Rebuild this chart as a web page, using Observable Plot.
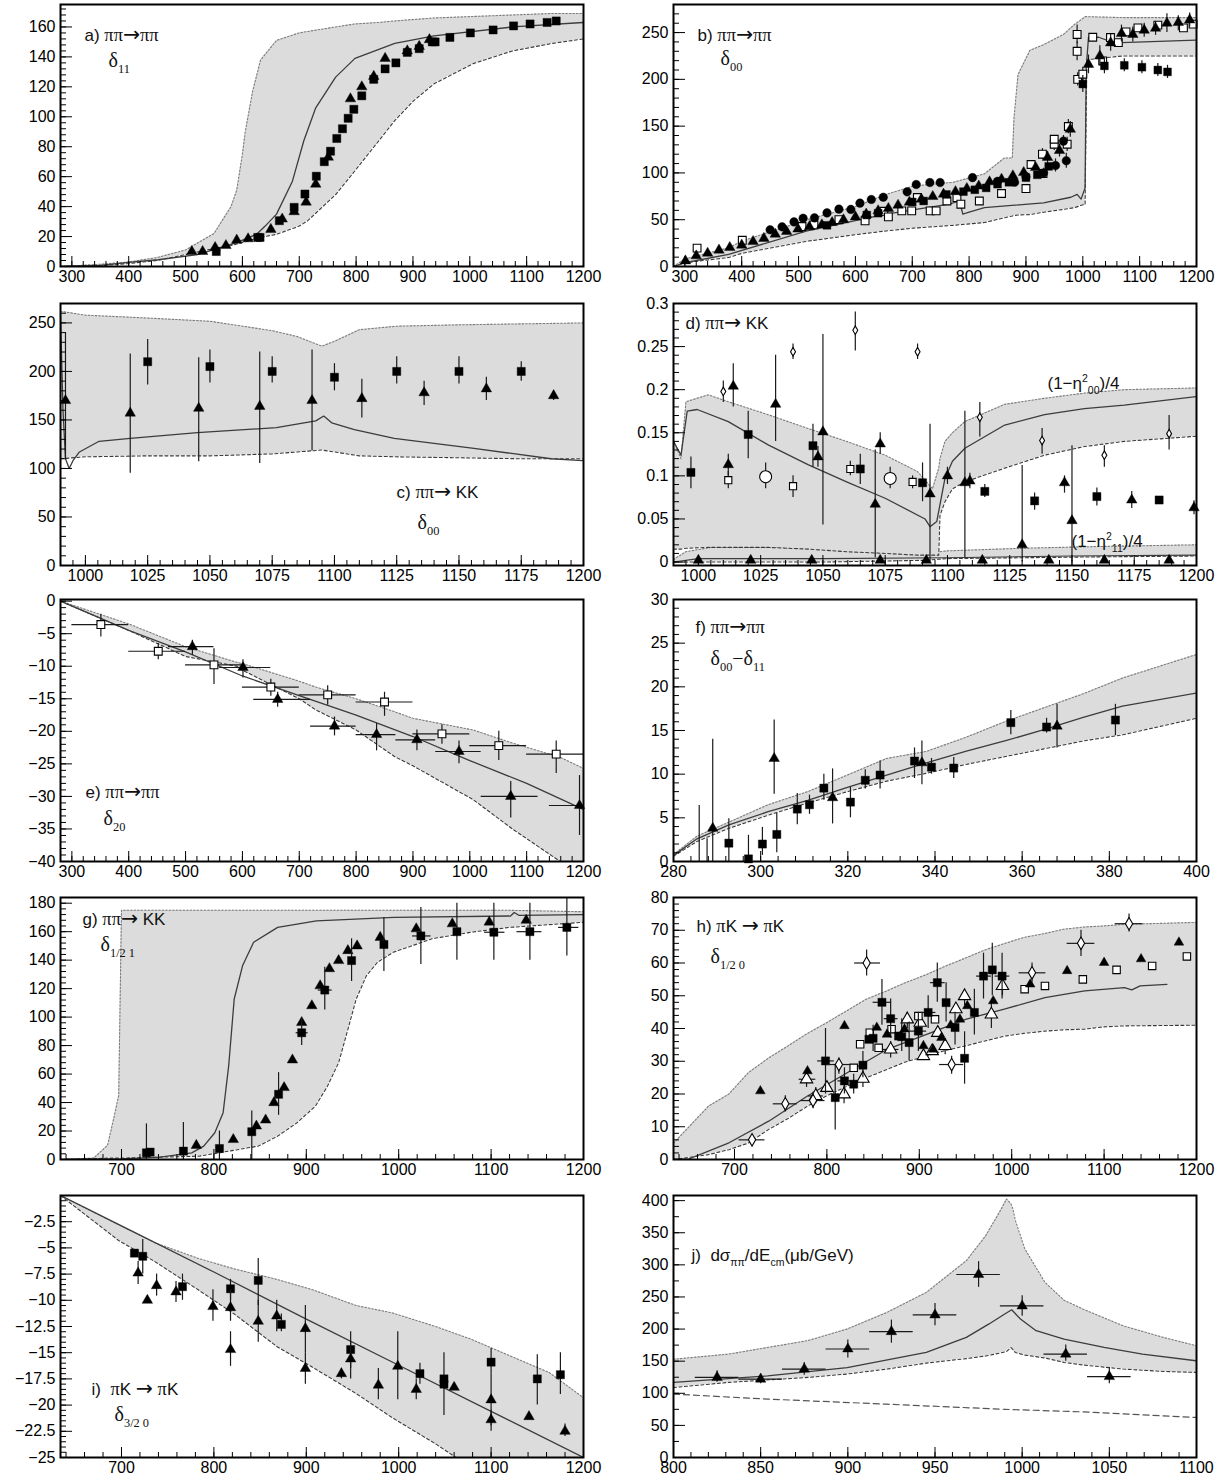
<!DOCTYPE html>
<html><head><meta charset="utf-8">
<script src="https://cdn.jsdelivr.net/npm/d3@7"></script>
<script src="https://cdn.jsdelivr.net/npm/@observablehq/plot@0.6"></script>
<style>
body{margin:0;background:#fff}
#fig{position:relative;width:1221px;height:1478px;overflow:hidden;background:#fff}
</style></head><body><div id="fig"></div>
<script>
// ===================== DATA =====================
// Tick labels
const ticks100 = [300,400,500,600,700,800,900,1000,1100,1200];
const ticks25 = [1000,1025,1050,1075,1100,1125,1150,1175,1200];
const ticksF = [280,300,320,340,360,380,400];
const ticksGH = [700,800,900,1000,1100,1200];
const ticksJ = [800,850,900,950,1000,1050,1100];
const yTicksA = [0,20,40,60,80,100,120,140,160];
const yTicksB = [0,50,100,150,200,250];
const yTicksD = [0,0.05,0.1,0.15,0.2,0.25,0.3];
const yTicksE = [0,-5,-10,-15,-20,-25,-30,-35,-40];
const yTicksF = [0,5,10,15,20,25,30];
const yTicksG = [0,20,40,60,80,100,120,140,160,180];
const yTicksH = [0,10,20,30,40,50,60,70,80];
const yTicksI = [-2.5,-5,-7.5,-10,-12.5,-15,-17.5,-20,-22.5,-25];
const yTicksJ = [0,50,100,150,200,250,300,350,400];

// ---- a) pi pi -> pi pi, delta11 ----  band rows: [x, lower, upper]
const aBand = [[280,0,0],[350,0.5,1.5],[400,2,3],[450,4,6],[500,8,11],[550,12,22],[580,14,40],[590,15,51],[600,16,75],[605,16.5,90],[618,18,117],[632,19.5,138],[660,21.5,151],[700,27,156],[715,30.6,157],[764,48,160],[798,64,162],[840,84,163],[868,97.5,164],[902,111,165],[937,122,166],[1006,135.5,167],[1075,144,168],[1145,149,169],[1200,152,169]];
const aCurve = [[280,0],[350,0.8],[400,2.7],[452,4.5],[521,8],[590,16],[625,21.6],[640,27],[660,35],[688,57],[708,84],[729,106],[764,126.5],[798,139],[868,149],[937,154],[1075,160],[1200,163]];
const aSquares = [[554,10],[627,19.4],[631,19.4],[665,30.6],[691,39.5],[710,48.4],[730,60.3],[744,70],[755,77],[766,85.5],[776,92],[786,99],[796,105],[810,114],[831,125],[851,132],[870,136],[890,143],[911,145.5],[934,150],[939,150],[965,153],[1001,156],[1041,158],[1077,160.7],[1106,162],[1136,163],[1152,164]];
const aTriangles = [[511,10],[530,10],[552,12.7],[571,14],[590,17.6],[610,18.5],[650,24.8],[670,31.7],[691,36.6],[712,43],[729,55],[751,73],[790,112],[810,120],[831,127],[851,139],[890,144],[911,147],[929,151.5]];

// ---- b) delta00 ----
const bBand = [[280,0,0],[300,4,8],[377,9.6,20],[400,14,27],[515,27,50],[600,34,64],[654,38,77],[702,41,86],[772,44,90],[827,47,99],[862,52,116],[876,54,116],[879,54.5,159],[886,55,205],[907,55.5,231],[931,58,237],[966,61,248],[986,63,259],[1000,66,265],[1004,66,267],[1007,221,267],[1070,225,266],[1200,225,266]];
const bCurve = [[280,0],[300,4],[377,13],[515,38],[654,56],[765,66.6],[783,70],[789,56],[800,58],[827,63],[931,68],[979,74],[990,77],[997,72],[1004,84],[1006,212],[1010,245],[1028,245],[1055,239],[1200,242]];
const bTriangles = [[301,6],[320,11.4],[340,14.2],[360,17.5],[379,20.3],[400,22.8],[420,26.7],[439,30],[459,34.5],[479,37.4],[499,40],[519,42.4],[541,44.5],[559,47],[579,50],[600,53],[619,56],[640,59.5],[658,62],[675,65.5],[695,68.7],[716,72],[736,74.8],[755,77.3],[776,80],[796,83.3],[817,86],[836,90.5],[857,93.3],[877,96.9],[896,100.4],[917,105.8],[938,116.5,110,123],[959,124,117,131],[978,146.7,138,155],[1010,216,206,226],[1030,225,214,236],[1049,239,230,248],[1068,249,240,258],[1088,248,240,256],[1108,252.5,245,260],[1128,254.6,247,262],[1148,260,250,270],[1168,260.7,252,268],[1188,263.5,256,271]];
const bCircles = [[450,39.2],[471,42.4],[492,47.7],[508,51.6],[528,52],[550,57.3],[571,61.3],[592,61],[608,67.7],[628,71.6],[649,74],[691,79.8],[707,87.6],[731,89.7],[749,89.7],[806,95],[850,91],[880,90],[900,96],[931,100,95,105],[952,108,101,115],[966,134,128,140],[971,113,105,121]];
const bSquares = [[550,44],[620,55],[640,57],[700,69],[720,70],[760,77],[790,80],[810,82],[830,84],[850,88],[870,90],[900,95],[920,98],[940,107],[1000,195,186,204],[1038,214.4,206,223],[1073,215,208,222],[1104,213,206,220],[1132,210,203,217],[1149,208,201,215]];
const bSquaresOpen = [[321.5,19.6],[401,28],[506,42.7],[527,44.5],[571,50],[617,48.8],[650,59],[658,53],[681.6,59.5],[699,59.5],[709,73.7],[731.5,59.5],[742,59.5],[761,70],[778.6,73.7],[785.5,66.6],[818,70],[857,78],[900,83.3],[909,109],[929,120,114,126],[930,99.4],[949.7,130.7,124,137],[949.7,136],[972.5,130.7,123,138],[974.6,149.6,142,157],[990,248,238,258],[990,230,220,240],[991,200,193,207],[1000,205.5,198,213],[1017.5,245],[1035,219.7],[1048.7,244.7],[1062.5,239.3],[1076,250.7],[1097,255],[1132,258],[1177,255],[1194,259]];

// ---- c) pi pi -> K K, delta00 ----
const cBand = [[990,110,262],[1000,112,258],[1025,113,255],[1050,113,251.7],[1075,115,242],[1085,117,236],[1095,119,226],[1100,117,231],[1110,113,243],[1125,112,246.6],[1150,111,248],[1175,110,249],[1200,110,250]];
const cCurve = [[990,258],[991,160],[992,110],[993.5,100],[995,108],[997.6,117],[1005.5,128],[1018,131],[1045,137],[1076.7,142],[1092.5,149],[1095.7,154],[1098.9,147],[1108,140],[1124,131],[1156,120.7],[1187,110],[1200,108]];
const cSquares = [[1025,210,186,233],[1050,205,188,222],[1075,200,188,215],[1100,194,180,208],[1125,200,187,215],[1150,200,187,215],[1175,200,190,210]];
const cTriangles = [[992,170,110,240],[1018,157,95,218],[1045.5,162,107,214],[1070,164,105,220],[1091,170,118,222],[1111,172,152,192],[1136,178,165,190],[1161,182,170,194],[1188,175,170,180]];

// ---- d) pi pi -> K K, inelasticities ----
const dBand00 = [[990,0.015,0.14],[993,0.015,0.12],[995,0.016,0.186],[1004,0.017,0.194],[1012,0.017,0.186],[1028,0.017,0.171],[1044,0.015,0.155],[1059.5,0.012,0.14],[1075,0.01,0.124],[1088,0.008,0.105],[1094,0.008,0.085],[1096.5,0.008,0.109],[1097,0.054,0.12],[1099,0.07,0.14],[1102,0.085,0.15],[1107,0.093,0.163],[1123,0.109,0.183],[1139,0.124,0.19],[1155,0.134,0.196],[1171,0.14,0.2],[1200,0.146,0.202]];
const dBand11 = [[990,0,0.003],[995,0,0.012],[1005,0,0.017],[1030,0,0.017],[1050,0,0.016],[1070,0.001,0.012],[1090,0.002,0.01],[1100,0.004,0.013],[1130,0.005,0.016],[1160,0.006,0.018],[1200,0.007,0.02]];
const dCurve00 = [[990,0.14],[993,0.124],[995.5,0.175],[999.5,0.177],[1012,0.163],[1028,0.136],[1044,0.113],[1059.5,0.093],[1075,0.074],[1091,0.05],[1093,0.041],[1095.7,0.047],[1099,0.097],[1102,0.117],[1107,0.132],[1123,0.159],[1139,0.171],[1155,0.178],[1171,0.182],[1200,0.192]];
const dCurve11 = [[990,0],[1000,0.004],[1050,0.004],[1100,0.005],[1150,0.007],[1200,0.008]];
const dSquares = [[997,0.104,0.085,0.122],[1020,0.148,0.12,0.175],[1046,0.135,0.11,0.16],[1065,0.108,0.09,0.125],[1090,0.092,0.07,0.115],[1115,0.082,0.075,0.09],[1135,0.071,0.06,0.08],[1160,0.076,0.065,0.086],[1185,0.072,0.068,0.076]];
const dTriangles = [[1012,0.113,0.1,0.125],[1014,0.204,0.18,0.23],[1031,0.183,0.14,0.24],[1048,0.122,0.11,0.134],[1050,0.151,0.043,0.264],[1071,0.067,0.005,0.13],[1073,0.137,0.125,0.15],[1093,0.079,0,0.16],[1100,0.1,0.09,0.11],[1107,0.092,0.005,0.175],[1109,0.094,0.085,0.103],[1130,0.02,0,0.112],[1147,0.092,0.08,0.1],[1150,0.048,0,0.135],[1174,0.072,0.062,0.082],[1199,0.063,0.055,0.071]];
const dTrianglesLow = [[1000,0.002],[1021,0.002],[1045.5,0.002],[1073,0.002],[1091.5,0.002],[1114,0.002],[1140.7,0.002],[1163,0.002],[1189,0.002]];
const dSquaresOpen = [[1012,0.095,0.085,0.105],[1038,0.088,0.075,0.1],[1061,0.108,0.1,0.117],[1086,0.093,0.085,0.1]];
const dCirclesOpen = [[1027,0.099,0.085,0.115],[1077,0.097,0.085,0.11]];
const dDiamonds = [[1010,0.198,0.185,0.21],[1038,0.244,0.235,0.253],[1063,0.269,0.245,0.29],[1088,0.244,0.235,0.253],[1113,0.168,0.145,0.185],[1138,0.141,0.125,0.155],[1163,0.124,0.11,0.135],[1189,0.149,0.13,0.17]];

// ---- e) delta20 ----  points: [x, y, ylo, yhi, xlo, xhi]
const eBand = [[280,0,0],[400,-4.5,-3.5],[500,-8.5,-7],[590,-10,-9.4],[600,-10.6,-9.6],[700,-15,-12.3],[729,-16.7,-13.2],[800,-19.8,-15],[868,-23.9,-17],[900,-25.3,-18],[1006,-30.5,-19.8],[1075,-35,-21.8],[1159,-40,-24],[1200,-40,-25.7]];
const eCurve = [[280,0],[400,-4.5],[500,-7.8],[600,-11.5],[700,-14.5],[800,-17.5],[900,-20.8],[1000,-24.5],[1100,-28],[1200,-32]];
const eSquaresOpen = [[351,-3.6,-2,-5.5,300,400],[452,-7.7,-6.5,-9,400,500],[550,-9.8,-7.3,-12.8,500,600],[650,-13.2,-12,-14.6,600,700],[750,-14.4,-13,-16,700,800],[850,-15.5,-14,-17.7,800,900],[951,-20.4,-19,-22,900,1000],[1051,-22.2,-20,-24.5,1000,1100],[1152,-23.5,-21.5,-26.5,1100,1200]];
const eTriangles = [[512,-7,-6,-8.3,470,550],[601,-10.2,-9,-11.8,560,650],[662,-15.1,-14,-16.3,620,720],[762,-19.2,-17.8,-20.7,720,800],[836,-20.5,-18.8,-23,800,870],[907,-21.3,-19.8,-23,870,940],[981,-23.1,-21.5,-25,940,1020],[1072,-30,-27.7,-33.3,1020,1120],[1193,-31.4,-26.8,-36,1140,1200]];

// ---- f) delta00 - delta11 ----
const fBand = [[280,0.6,0.8],[285.4,2.3,2.9],[292.7,3.8,4.5],[301.7,5.3,6.5],[310.8,6.7,8],[319.9,8,9.9],[328.9,9.2,11.8],[338,10.1,12.6],[347,11.1,14.2],[356,12,16],[365,12.9,17.6],[374,13.8,19.2],[383,14.5,21],[400,16.4,23.7]];
const fCurve = [[280,0.7],[285.4,2.6],[292.7,4.2],[301.7,5.7],[310.8,7],[319.9,8.5],[328.9,9.9],[338,11.3],[347,12.6],[356,13.8],[365,15.1],[374,16.5],[383,17.8],[400,19.3]];
const fSquares = [[292.7,2.1,0,4.9],[297.2,0.3,0,3],[300.4,2,0.7,3.9],[303.7,3.1,1,5.5],[308.4,6,4.2,7.8],[311.2,6.5,5.4,7.6],[314.5,8.4,7,10],[320.6,6.8,5,8.5],[324,9.3,8.3,10.5],[327.4,9.9,8.3,11.5],[335.3,11.5,9.5,13],[339.2,10.8,10,11.8],[344.3,10.7,9.5,11.9],[357.4,15.9,14.5,17.3],[365.6,15.4,14.7,16.4],[381.4,16.2,14.4,18]];
const fTriangles = [[289,3.8,0,14],[303.1,11.8,7.7,16.2],[316.5,7.3,4.3,10.6],[337,11.3,8.8,13.8],[368,15.5,13,18]];
const fErrOnly = [[285.9,0,6.4],[287.7,0,2.6]];

// ---- g) delta 1/2 1 ----
const gBand = [[634,0,0],[670,0.5,1],[685,1,10],[692,1,30],[697,1,45],[700,1,175],[784,2.3,175],[848,9.4,175],[869,16.4,175],[890,25.8,175],[910,37.6,175],[923,51.6,175],[935,68,175],[944,89,175],[954,112.7,175],[965,129,175],[977,138.5,175],[994,145.5,175],[1036,155,175],[1078,159.6,175],[1120,163,175],[1200,166.6,174]];
const gCurve = [[634,0],[700,0.5],[742,1.6],[776,4.7],[789,9.4],[801,18.8],[810,32.9],[816,65.7],[822,112.7],[831,136],[843,152.6],[869,163],[911,167.6],[995,170],[1121,171],[1125,173.5],[1130,171.5],[1200,172]];
const gSquares = [[727,4.7,0,25],[731,5.2],[767,5.9,0,26],[806,7.7,0,20],[841,19.5,0,34],[870,45.8,31,61],[895,89,80,99,889,902],[920,119,105,135,913,928],[949,139.7,125,155],[984,151,132,170],[1024,157,137,177,1015,1035],[1063,160,140,180],[1103,159.6,140,180,1093,1115],[1142,160,140,180,1128,1155],[1182,163,143,184,1173,1195]];
const gTriangles = [[781,9.9],[821,14],[846,23.5],[856,27.7],[865,39.9],[876,50.5],[885,69.9],[895,96.2],[906,108],[915,122],[925,134],[935,139.7],[945,146.7],[955,150],[980,156],[1019,162],[1058,165.5],[1098,166.7],[1138,168]];

// ---- h) delta 1/2 0 ----
const hBand = [[634,0,5],[672,1.5,16.3],[694,3,20],[715,5,26.5],[737,9.2,31],[758,12.5,34.7],[779,16.3,38.5],[800,19.5,41.8],[822,22.4,45.5],[843,25,49],[865,27.5,51.5],[885,29.8,54],[908,31.6,56.5],[928,33.3,59],[950,34.7,61.5],[971,36.2,64],[993,37.7,66],[1013,38.5,67.8],[1036,39.2,69],[1056,39.6,70.3],[1079,39.8,71],[1099,40.5,71.3],[1122,40.8,71.8],[1200,41,72.4]];
const hCurve = [[634,0],[651,0.2],[694,5.1],[737,11.7],[779,19.4],[822,26.5],[865,33.6],[908,38.2],[950,42.8],[993,46],[1036,49.4],[1079,51.5],[1122,52.5],[1130,51.8],[1139,53],[1168,53.5]];
const hTriangles = [[728,20.9],[779,27],[819,40.8],[854,40.3],[865,38.2],[884,39.8],[904.5,34.7],[915,33.6],[924,37.2],[934,41],[944,42.8],[952,46.9],[980,48.4],[1020,53.5],[1060,57.6],[1100,60.1],[1140,61.2],[1181,66.3]];
const hSquares = [[798.5,30.1,20,40,790,808],[809,18.9,9,29],[819,24,20,28,812,826],[829,23,20,26],[839,28.8,25,33],[845.5,36.7],[850,37,33,41],[859.6,48,41,55,850,870],[869,43,37,49,862,877],[877.6,37.7],[881,37.5,33,43],[889,35.7,30,42],[899,39.2,33,45,890,908],[909.6,44.9,40,50,902,918],[919.5,54,48,60,912,928],[929,47.9,42,54],[938.7,40.3,35,45],[949,30.9,23,39],[959.6,44.9,38,52],[969.5,56,49,63,962,978],[979,57.9,50,66],[989.6,56,49,63,982,998]];
const hSquaresOpen = [[829,28],[836,35.2],[846.4,38.7],[856,34.1],[870,39.8],[899,43.8],[917,42.8],[1014,52],[1036,53],[1077,55,1071,1083],[1113.5,57.9],[1152,59.1],[1189.6,62,1184,1196]];
const hTrianglesOpen = [[778,24.5,22,27,770,788],[788,19.4,17,22,780,796],[800,21.9],[818.6,19.9,17,22.5],[839,24.7,22,27],[869,33.6,31,36,860,878],[887,42.8,40,45],[901,41.8],[904.5,31.6],[914,33.1],[920,38.7],[928,34.7,32,37],[939.6,45.9],[949,49.9,47,52],[978,44.3,40,48],[990,53,50,56]];
const hDiamonds = [[719,6,4.5,7.5,705,733],[755,17,14.5,19.5,742,768],[785,18,15.5,20.5,772,798],[813,29,26,31,800,826],[843,60,56,64,830,858],[935,29,26,31.5,922,948],[1022,57,54,60,1008,1037],[1075,66,62,70,1060,1090],[1127,72,69.5,75,1112,1142]];

// ---- i) delta 3/2 0 ----
const iBand = [[634,0,0],[697,-4.3,-2.8],[736,-6.3,-4.5],[783,-9,-6],[822,-11.3,-7],[868,-14.4,-8],[907,-16.4,-9],[954,-18.9,-10.5],[993,-21.2,-11.2],[1040,-23.7,-12.5],[1062,-25,-13.2],[1078,-25,-13.7],[1163,-25,-16.9],[1200,-25,-19.3]];
const iCurve = [[634,0],[700,-2.9],[800,-7.3],[900,-11.8],[1000,-16.2],[1100,-20.6],[1200,-25]];
const iSquares = [[714,-5.5],[723,-5.8,-4.2,-7.5],[766,-8.7,-7.5,-10],[818,-8.9,-8,-10],[848,-8.1,-6,-10.5],[873,-12.3,-11.3,-13],[948,-14.7,-13,-16.5],[1023,-17,-16,-18],[1049,-17.5,-15,-21],[1049,-18],[1100,-15.9,-14.6,-17],[1150,-17.5,-15.2,-20],[1175,-17.1,-15,-19]];
const iTriangles = [[718,-7.4,-6.3,-8.5],[728,-10],[738,-8.6,-7.5,-9.6],[759,-9.2,-8.2,-10.2],[799,-10.6,-9,-12],[818,-10.7,-9,-12],[818,-14.7,-13,-16.3],[848,-12,-10,-14],[868,-11.5,-10,-13],[899,-12.7,-10.5,-15],[899,-16.5,-15,-18],[938,-17,-16.5,-17.5],[948,-15.6,-14,-17.5],[978,-18.1,-16.5,-19.5],[999,-16.3,-13,-19.5],[1019,-18.5,-17.5,-19.5],[1060,-18.3],[1100,-19.5,-17,-22],[1100,-21.4,-20.5,-22.5],[1141,-21.1],[1180,-22.5,-21.8,-23]];

// ---- j) cross section ----
const jBand = [[800,109,153],[831.7,117,161],[877,124.7,182],[899.6,130,200],[922.5,137.7,226],[945,147,257],[968,154,306.5],[979,158,345],[988,163,387],[991,165,402.6],[993.6,171,395],[994.7,168,387],[996,163.6,370],[1001.5,159.5,325],[1013,155,273],[1024,148,245],[1035,144,231],[1058,137.7,205],[1081,134,187],[1100,132.5,174]];
const jCurve = [[800,117],[854,127],[899.6,140],[945,163.6],[968,187],[981,208],[990,223.4],[994,230],[999,215.6],[1008,197.4],[1024,184.4],[1047,171.4],[1069,161],[1100,150.6]];
const jDashed = [[800,98.7],[854,91],[922.5,83],[990,75],[1035,71],[1100,62.3]];
const jTriangles = [[825,124.7,117,135,812.5,837.5],[850,122,115,130,837.5,862.5],[875,137.7,128,148,862.5,887.5],[900,169,155,183,887.5,912.5],[925,196,178,214,912.5,937.5],[950,222,205,240,937.5,962.5],[975,285,265,305,962.5,987.5],[1000,236,220,252,987.5,1012.5],[1025,161,150,175,1012.5,1037.5],[1050,126,115,140,1037.5,1062.5]];

// ===================== DRAWING =====================
const FW = 523, FH = 262;
const COLS = [60, 673];
const ROWS = [4, 303, 599, 897, 1195];
const GRAY = "#dcdcdc";
const fig = document.getElementById("fig");
const fmt = d => String(+(+d).toFixed(6)).replace("-", "\u2212");

function minor(domain, step) {
  const lo = Math.min(...domain), hi = Math.max(...domain);
  const a = Math.ceil(lo / step - 1e-9) * step;
  return d3.range(a, hi + step * 1e-6, step).map(v => +v.toFixed(6));
}
function band(data) {
  return [
    Plot.areaY(data, {x: d => d[0], y1: d => d[1], y2: d => d[2], fill: GRAY, clip: true}),
    Plot.line(data, {x: d => d[0], y: d => d[2], stroke: "#7c7c7c", strokeWidth: 1.1, strokeDasharray: "1.5,2", clip: true}),
    Plot.line(data, {x: d => d[0], y: d => d[1], stroke: "#3a3a3a", strokeWidth: 1.1, strokeDasharray: "3,2.5", clip: true})
  ];
}
function curve(data, o = {}) {
  return Plot.line(data, {x: d => d[0], y: d => d[1], stroke: "#3c3c3c", strokeWidth: 1.3, clip: true, ...o});
}
function pts(data, symbol, o = {}) {
  const out = [];
  const ye = data.filter(d => d[2] != null && d[3] != null);
  const xe = data.filter(d => d[4] != null && d[5] != null);
  if (ye.length) out.push(Plot.ruleX(ye, {x: d => d[0], y1: d => d[2], y2: d => d[3], stroke: "#1a1a1a", strokeWidth: 1.2, clip: true}));
  if (xe.length) out.push(Plot.ruleY(xe, {y: d => d[1], x1: d => d[4], x2: d => d[5], stroke: "#1a1a1a", strokeWidth: 1.2, clip: true}));
  out.push(Plot.dot(data, {x: d => d[0], y: d => d[1], symbol, r: o.r ?? 4.5,
    fill: o.open ? "white" : "black", stroke: "black", strokeWidth: o.open ? 1.1 : 0.4}));
  return out;
}
function label(str, dx, dy, o = {}) {
  return Plot.text([str], {text: d => d, frameAnchor: "top-left", dx, dy, textAnchor: "start", lineAnchor: "middle",
    fontSize: o.fs ?? 17, fontFamily: o.ff ?? "Liberation Sans, Arial, sans-serif", fill: "#111"});
}
const delta = (str, dx, dy) => label(str, dx, dy, {fs: 20, ff: "Liberation Serif, serif"});

// turns _{..} / ^{..} into sub/superscripts, and sets π and → in symbol-like faces
function rich(svg) {
  svg.querySelectorAll("text").forEach(t => {
    const s = t.textContent;
    if (!/[_^]\{|→|π/.test(s)) return;
    const fs = parseFloat(getComputedStyle(t).fontSize) || 16;
    t.textContent = "";
    const re = /([_^])\{([^}]*)\}|(→)|(π+)/g;
    let last = 0, cur = 0, m;
    const add = (str, kind) => {
      if (!str) return;
      const ts = document.createElementNS("http://www.w3.org/2000/svg", "tspan");
      const target = kind === "_" ? 0.3 * fs : kind === "^" ? -0.42 * fs : 0;
      if (target !== cur) ts.setAttribute("dy", (target - cur).toFixed(1));
      cur = target;
      if (kind === "_" || kind === "^") ts.setAttribute("font-size", (0.62 * fs).toFixed(1));
      if (kind === "arrow") { ts.setAttribute("font-family", "DejaVu Sans, sans-serif"); ts.setAttribute("font-size", (1.2 * fs).toFixed(1)); }
      if (kind === "pi") { ts.setAttribute("font-family", "Liberation Serif, serif"); ts.setAttribute("font-size", (1.08 * fs).toFixed(1)); }
      ts.textContent = str;
      t.appendChild(ts);
    };
    while ((m = re.exec(s))) {
      add(s.slice(last, m.index), null);
      if (m[1]) add(m[2], m[1]);
      else if (m[3]) add(m[3], "arrow");
      else add(m[4], "pi");
      last = re.lastIndex;
    }
    add(s.slice(last), null);
  });
}

function panel(cfg) {
  const ml = 60, mr = 30, mt = 6, mb = 26;
  const svg = Plot.plot({
    width: FW + ml + mr, height: FH + mt + mb,
    marginLeft: ml, marginRight: mr, marginTop: mt, marginBottom: mb,
    style: {fontFamily: "Liberation Sans, Arial, sans-serif", fontSize: "16px", background: "transparent", overflow: "visible", maxWidth: "none"},
    x: {domain: cfg.x},
    y: {domain: cfg.y},
    marks: [
      ...cfg.marks.flat(),
      Plot.tickX(minor(cfg.x, cfg.xm), {x: d => d, insetTop: FH - 5, stroke: "black"}),
      Plot.tickX(cfg.xt, {x: d => d, insetTop: FH - 10, stroke: "black"}),
      Plot.tickY(minor(cfg.y, cfg.ym), {y: d => d, insetRight: FW - 6, stroke: "black"}),
      Plot.tickY(cfg.yt, {y: d => d, insetRight: FW - 12, stroke: "black"}),
      Plot.axisX({ticks: cfg.xt, tickSize: 0, tickPadding: 4, tickFormat: fmt, label: null}),
      Plot.axisY({ticks: cfg.yt, tickSize: 0, tickPadding: 5, tickFormat: fmt, label: null}),
      Plot.frame({stroke: "black", strokeWidth: 2})
    ]
  });
  svg.style.position = "absolute";
  svg.style.left = (COLS[cfg.col] - ml) + "px";
  svg.style.top = (ROWS[cfg.row] - mt) + "px";
  fig.appendChild(svg);
  rich(svg);
}

// a
panel({col: 0, row: 0, x: [280, 1200], y: [0, 175], xt: ticks100, xm: 20, yt: yTicksA, ym: 4, marks: [
  band(aBand), curve(aCurve), pts(aSquares, "square", {r: 4.6}), pts(aTriangles, "triangle", {r: 3.9}),
  label("a) ππ→ππ", 24, 31), delta("δ_{11}", 48, 56)
]});
// b
panel({col: 1, row: 0, x: [280, 1200], y: [0, 280], xt: ticks100, xm: 20, yt: yTicksB, ym: 10, marks: [
  band(bBand), curve(bCurve),
  pts(bSquaresOpen, "square", {r: 4.4, open: true}), pts(bCircles, "circle", {r: 4.3}),
  pts(bTriangles, "triangle", {r: 3.9}), pts(bSquares, "square", {r: 4.4}),
  label("b) ππ→ππ", 24, 31), delta("δ_{00}", 47, 54)
]});
// c
panel({col: 0, row: 1, x: [990, 1200], y: [0, 270], xt: ticks25, xm: 5, yt: yTicksB, ym: 10, marks: [
  band(cBand), curve(cCurve), pts(cSquares, "square", {r: 4.6}), pts(cTriangles, "triangle", {r: 3.9}),
  label("c) ππ→ KK", 336, 189), delta("δ_{00}", 357, 219)
]});
// d
panel({col: 1, row: 1, x: [990, 1200], y: [-0.004, 0.3], xt: ticks25, xm: 5, yt: yTicksD, ym: 0.01, marks: [
  band(dBand11), band(dBand00), curve(dCurve00), curve(dCurve11, {strokeWidth: 1.1}),
  pts(dSquaresOpen, "square", {r: 4, open: true}), pts(dCirclesOpen, "circle", {r: 6, open: true}),
  pts(dDiamonds, "diamond", {r: 2.6, open: true}),
  pts(dSquares, "square", {r: 4.6}), pts(dTriangles, "triangle", {r: 3.9}), pts(dTrianglesLow, "triangle", {r: 3.9}),
  label("d) ππ→ KK", 12, 20), label("(1−η^{2}_{00})/4", 374, 80), label("(1−η^{2}_{11})/4", 398, 238)
]});
// e
panel({col: 0, row: 2, x: [280, 1200], y: [-40, 0.25], xt: ticks100, xm: 20, yt: yTicksE, ym: 1, marks: [
  band(eBand), curve(eCurve), pts(eSquaresOpen, "square", {r: 4.4, open: true}), pts(eTriangles, "triangle", {r: 3.9}),
  label("e) ππ→ππ", 25, 193), delta("δ_{20}", 43, 219)
]});
// f
panel({col: 1, row: 2, x: [280, 400], y: [0, 30], xt: ticksF, xm: 4, yt: yTicksF, ym: 1, marks: [
  band(fBand), curve(fCurve),
  Plot.ruleX(fErrOnly, {x: d => d[0], y1: d => d[1], y2: d => d[2], stroke: "#1a1a1a", strokeWidth: 1.2}),
  pts(fSquares, "square", {r: 4.6}), pts(fTriangles, "triangle", {r: 3.9}),
  label("f) ππ→ππ", 22, 28), delta("δ_{00}−δ_{11}", 37, 59)
]});
// g
panel({col: 0, row: 3, x: [634, 1200], y: [0, 184], xt: ticksGH, xm: 20, yt: yTicksG, ym: 4, marks: [
  band(gBand), curve(gCurve), pts(gTriangles, "triangle", {r: 3.9}), pts(gSquares, "square", {r: 4.6}),
  label("g) ππ→ KK", 22, 22), delta("δ_{1/2 1}", 40, 47)
]});
// h
panel({col: 1, row: 3, x: [634, 1200], y: [0, 80], xt: ticksGH, xm: 20, yt: yTicksH, ym: 2, marks: [
  band(hBand), curve(hCurve),
  pts(hTrianglesOpen, "triangle", {r: 4.6, open: true}), pts(hSquaresOpen, "square", {r: 4.2, open: true}),
  pts(hSquares, "square", {r: 4.6}), pts(hTriangles, "triangle", {r: 3.6}),
  pts(hDiamonds, "diamond", {r: 3.8, open: true}),
  label("h) πK → πK", 23, 29), delta("δ_{1/2 0}", 37, 59)
]});
// i
panel({col: 0, row: 4, x: [634, 1200], y: [-25, 0], xt: ticksGH, xm: 20, yt: yTicksI, ym: 0.5, marks: [
  band(iBand), curve(iCurve), pts(iSquares, "square", {r: 4.6}), pts(iTriangles, "triangle", {r: 3.9}),
  label("i)  πK → πK", 31, 194), delta("δ_{3/2 0}", 54, 219)
]});
// j
panel({col: 1, row: 4, x: [800, 1100], y: [0, 408], xt: ticksJ, xm: 10, yt: yTicksJ, ym: 25, marks: [
  band(jBand), curve(jCurve), curve(jDashed, {stroke: "#555", strokeDasharray: "6,4", strokeWidth: 1.2}),
  pts(jTriangles, "triangle", {r: 3.9}),
  label("j)  dσ_{ππ}/dE_{cm}(μb/GeV)", 18, 60)
]});
</script></body></html>
